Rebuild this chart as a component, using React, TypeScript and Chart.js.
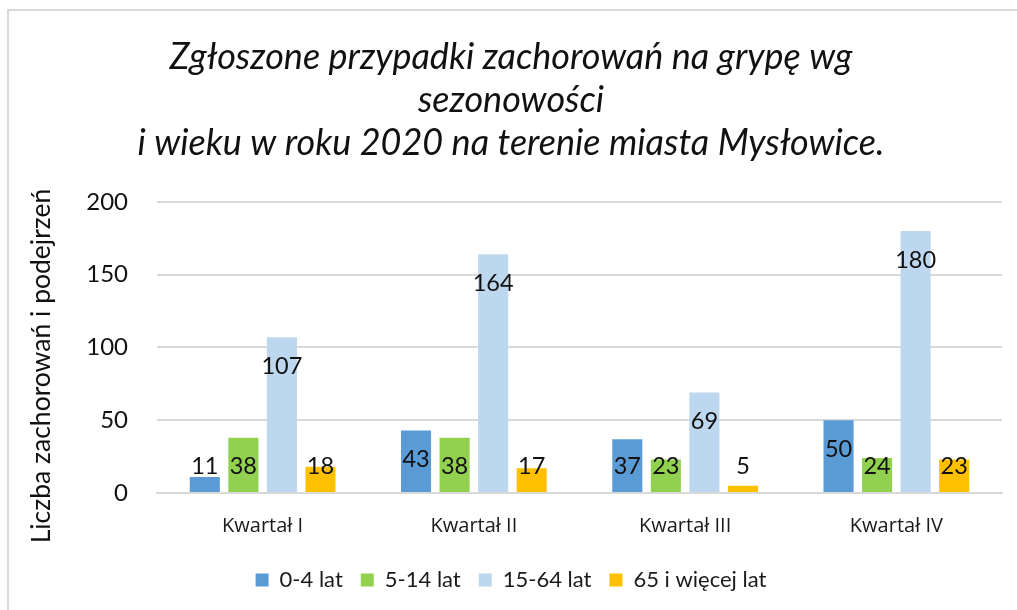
import React, { useEffect, useRef } from 'react';
import { Chart, registerables } from 'chart.js';

Chart.register(...registerables);

const categories = ['Kwartał I', 'Kwartał II', 'Kwartał III', 'Kwartał IV'];
const seriesNames = ['0-4 lat', '5-14 lat', '15-64 lat', '65 i więcej lat'];
const age0to4 = [11, 43, 37, 50];
const age5to14 = [38, 38, 23, 24];
const age15to64 = [107, 164, 69, 180];
const age65plus = [18, 17, 5, 23];
const seriesColors = ['#5b9bd5', '#92d050', '#bdd7ee', '#ffc000'];
const yMin = 0;
const yMax = 200;
const yStep = 50;
const titleLines = [
  'Zgłoszone przypadki zachorowań na grypę wg',
  'sezonowości',
  'i wieku w roku 2020 na terenie miasta Mysłowice.',
];
const yAxisTitle = 'Liczba zachorowań i podejrzeń';

const W = 1017;
const H = 610;

const framePlugin = {
  id: 'frame',
  beforeDraw(chart: any) {
    const ctx = chart.ctx;
    ctx.save();
    ctx.fillStyle = '#ffffff';
    ctx.fillRect(0, 0, chart.width, chart.height);
    ctx.strokeStyle = '#d9d9d9';
    ctx.lineWidth = 2;
    ctx.beginPath();
    ctx.moveTo(chart.width, 10);
    ctx.lineTo(8, 10);
    ctx.lineTo(8, chart.height);
    ctx.stroke();
    ctx.restore();
  },
};

const yTitlePlugin = {
  id: 'yTitle',
  afterDraw(chart: any) {
    const ctx = chart.ctx;
    ctx.save();
    ctx.translate(41, 366);
    ctx.rotate(-Math.PI / 2);
    ctx.font = '26.5px Lato';
    ctx.fillStyle = '#111111';
    ctx.textAlign = 'center';
    ctx.textBaseline = 'middle';
    ctx.fillText(yAxisTitle, 0, 0);
    ctx.restore();
  },
};

const labelPlugin = {
  id: 'barLabels',
  afterDatasetsDraw(chart: any) {
    const ctx = chart.ctx;
    ctx.save();
    ctx.font = '23.5px Lato';
    ctx.fillStyle = '#111111';
    ctx.textAlign = 'center';
    ctx.textBaseline = 'middle';
    chart.data.datasets.forEach((ds: any, di: number) => {
      const meta = chart.getDatasetMeta(di);
      meta.data.forEach((bar: any, i: number) => {
        const y = Math.min(bar.y + 29, bar.base - 26);
        ctx.fillText(String(ds.data[i]), bar.x, y);
      });
    });
    ctx.restore();
  },
};

export default function App() {
  const ref = useRef<HTMLCanvasElement | null>(null);
  useEffect(() => {
    if (!ref.current) return;
    const values = [age0to4, age5to14, age15to64, age65plus];
    const chart = new Chart(ref.current, {
      type: 'bar',
      data: {
        labels: categories,
        datasets: seriesNames.map((name, i) => ({
          label: name,
          data: values[i],
          backgroundColor: seriesColors[i],
          borderWidth: 0,
          barPercentage: 0.78,
          categoryPercentage: 0.73,
        })),
      },
      options: {
        responsive: false,
        animation: false,
        devicePixelRatio: 1,
        layout: { padding: { left: 20, right: 15, top: 0, bottom: 9 } },
        plugins: {
          title: {
            display: true,
            text: titleLines,
            font: { family: 'Lato', size: 36, style: 'italic', weight: 'normal', lineHeight: 1.194 },
            color: '#111111',
            padding: { top: 35.5, bottom: 37.5 },
          },
          legend: {
            position: 'bottom',
            labels: {
              boxWidth: 13,
              boxHeight: 13,
              padding: 18,
              font: { family: 'Lato', size: 22 },
              color: '#1a1a1a',
            },
          },
          tooltip: { enabled: false },
        },
        scales: {
          x: {
            grid: { display: false, drawTicks: false },
            border: { display: true, color: '#d9d9d9', width: 2 },
            ticks: {
              font: { family: 'Open Sans', size: 20 },
              color: '#1a1a1a',
              padding: 21,
            },
            afterFit: (s: any) => {
              s.height = 58;
            },
          },
          y: {
            min: yMin,
            max: yMax,
            grid: { color: '#d9d9d9', lineWidth: 2, drawTicks: false },
            border: { display: false },
            ticks: {
              stepSize: yStep,
              font: { family: 'Lato', size: 24 },
              color: '#111111',
              padding: 29,
            },
            afterFit: (s: any) => {
              s.width = 137;
            },
          },
        },
      },
      plugins: [framePlugin, labelPlugin, yTitlePlugin],
    });
    return () => chart.destroy();
  }, []);
  return (
    <div style={{ position: 'absolute', left: 0, top: 0, width: W, height: H }}>
      <canvas ref={ref} width={W} height={H} style={{ display: 'block', width: W, height: H }} />
    </div>
  );
}
